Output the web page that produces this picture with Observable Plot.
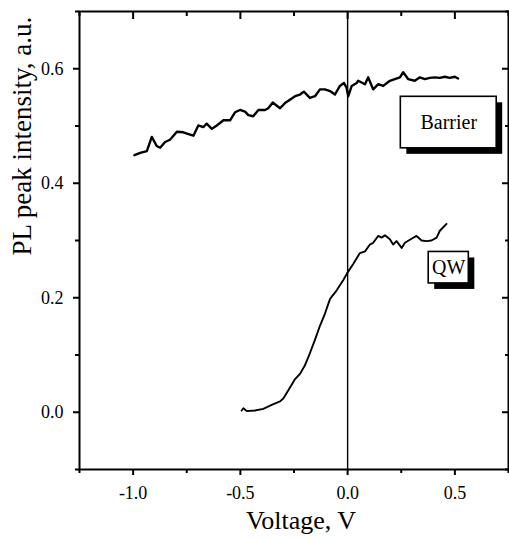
<!DOCTYPE html>
<html>
<head>
<meta charset="utf-8">
<script src="https://cdn.jsdelivr.net/npm/d3@7"></script>
<script src="https://cdn.jsdelivr.net/npm/@observablehq/plot@0.6"></script>
<style>
  html, body { margin: 0; padding: 0; background: #fff; }
  #chart svg { display: block; }
  #chart svg, #chart svg text { font-family: 'Liberation Serif', 'Times New Roman', serif !important; }
</style>
</head>
<body>
<div id="chart"></div>
<script>
// Barrier PL peak intensity vs voltage
const barrierV = [-0.994,-0.967,-0.936,-0.913,-0.890,-0.874,-0.851,-0.828,-0.796,-0.766,-0.742,-0.719,-0.696,-0.673,-0.657,-0.633,-0.610,-0.579,-0.548,-0.525,-0.502,-0.478,-0.463,-0.440,-0.416,-0.385,-0.370,-0.349,-0.315,-0.292,-0.269,-0.245,-0.222,-0.204,-0.176,-0.152,-0.129,-0.106,-0.082,-0.059,-0.036,-0.017,-0.005,0.003,0.019,0.042,0.049,0.081,0.096,0.119,0.143,0.166,0.197,0.220,0.244,0.259,0.282,0.313,0.337,0.360,0.383,0.407,0.430,0.453,0.476,0.500,0.515];
const barrierI = [0.449,0.453,0.456,0.481,0.465,0.462,0.472,0.476,0.490,0.489,0.486,0.483,0.501,0.498,0.504,0.495,0.501,0.510,0.510,0.524,0.528,0.525,0.519,0.517,0.528,0.528,0.531,0.541,0.531,0.540,0.546,0.552,0.555,0.560,0.549,0.552,0.564,0.564,0.561,0.555,0.570,0.575,0.567,0.552,0.570,0.575,0.579,0.573,0.585,0.564,0.573,0.570,0.579,0.582,0.585,0.594,0.582,0.579,0.585,0.582,0.584,0.585,0.584,0.586,0.584,0.586,0.583];
// Quantum well PL peak intensity vs voltage
const qwV = [-0.494,-0.486,-0.470,-0.432,-0.393,-0.354,-0.315,-0.300,-0.277,-0.245,-0.222,-0.199,-0.176,-0.152,-0.129,-0.106,-0.082,-0.051,-0.020,-0.002,0.026,0.057,0.081,0.104,0.119,0.143,0.158,0.174,0.197,0.212,0.228,0.252,0.267,0.298,0.321,0.345,0.368,0.391,0.415,0.430,0.461];
const qwI = [0.003,0.007,0.002,0.003,0.006,0.013,0.019,0.024,0.038,0.058,0.067,0.082,0.103,0.127,0.151,0.172,0.198,0.213,0.231,0.243,0.259,0.278,0.281,0.293,0.296,0.308,0.305,0.309,0.302,0.293,0.299,0.287,0.296,0.303,0.308,0.300,0.299,0.300,0.305,0.317,0.329];

const xMajor = [-1.0, -0.5, 0.0, 0.5];
const xMinor = [-1.25, -0.75, -0.25, 0.25, 0.75];
const yMajor = [0.0, 0.2, 0.4, 0.6];
const yMinor = [-0.1, 0.1, 0.3, 0.5, 0.7];

// curve label annotations (data coordinates of the label boxes)
const labelText = ["Barrier", "QW"];
const labelX1 = [0.248, 0.378];
const labelX2 = [0.695, 0.565];
const labelY1 = [0.461, 0.225];
const labelY2 = [0.551, 0.280];

const barrier = barrierV.map((v, i) => ({v, I: barrierI[i]}));
const qw = qwV.map((v, i) => ({v, I: qwI[i]}));
const labels = labelText.map((t, i) => ({t, x1: labelX1[i], x2: labelX2[i], y1: labelY1[i], y2: labelY2[i]}));

const font = "'Liberation Serif', 'Times New Roman', serif";
const fmt = d => d.toFixed(1); // plain hyphen for negatives
const tk = {stroke: "black", strokeWidth: 2, label: null};

const chart = Plot.plot({
  width: 509,
  height: 538,
  marginLeft: 79,
  marginRight: 1,
  marginTop: 11,
  marginBottom: 69,
  style: {fontFamily: font, color: "black", background: "white"},
  x: {domain: [-1.25, 0.75]},
  y: {domain: [-0.1, 0.7]},
  marks: [
    Plot.ruleX([0], {stroke: "black", strokeWidth: 1.4}),
    Plot.line(barrier, {x: "v", y: "I", stroke: "black", strokeWidth: 2.4, strokeLinejoin: "round"}),
    Plot.line(qw, {x: "v", y: "I", stroke: "black", strokeWidth: 1.9, strokeLinejoin: "round"}),
    Plot.rect(labels, {x1: "x1", x2: "x2", y1: "y1", y2: "y2", fill: "black", dx: 6, dy: 6}),
    Plot.rect(labels, {x1: "x1", x2: "x2", y1: "y1", y2: "y2", fill: "white", stroke: "black", strokeWidth: 1.6}),
    Plot.text(labels, {x: d => (d.x1 + d.x2) / 2, y: d => (d.y1 + d.y2) / 2, text: "t", fontSize: 20, fill: "black"}),
    Plot.frame({stroke: "black", strokeWidth: 2}),
    Plot.axisX({...tk, anchor: "bottom", ticks: xMajor, tickSize: 6, tickPadding: 11, tickFormat: fmt, fontSize: 18, fill: "black"}),
    Plot.axisX({...tk, anchor: "bottom", ticks: xMinor, tickSize: 4, text: null}),
    Plot.axisX({...tk, anchor: "top", ticks: xMajor, tickSize: -7, text: null}),
    Plot.axisX({...tk, anchor: "top", ticks: xMinor, tickSize: -4, text: null}),
    Plot.axisY({...tk, anchor: "left", ticks: yMajor, tickSize: 6, tickPadding: 10, tickFormat: fmt, fontSize: 18, fill: "black"}),
    Plot.axisY({...tk, anchor: "left", ticks: yMinor, tickSize: 4, text: null}),
    Plot.axisY({...tk, anchor: "right", ticks: yMajor, tickSize: -7, text: null}),
    Plot.axisY({...tk, anchor: "right", ticks: yMinor, tickSize: -4, text: null}),
    Plot.text(["PL peak intensity, a.u."], {frameAnchor: "left", rotate: -90, dx: -57, dy: 15, fontSize: 27, fill: "black"}),
    Plot.text(["Voltage, V"], {frameAnchor: "bottom", dx: 7, dy: 59, fontSize: 26, fill: "black"})
  ]
});
document.getElementById("chart").appendChild(chart);
</script>
</body>
</html>
